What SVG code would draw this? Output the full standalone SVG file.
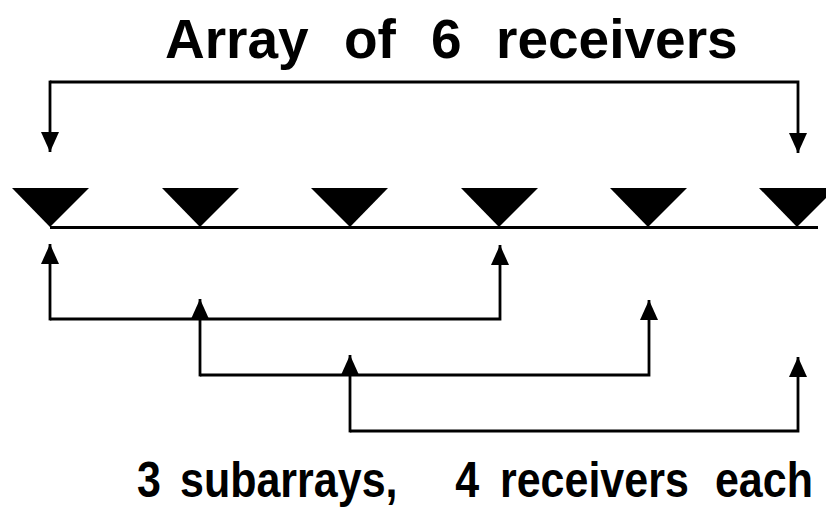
<svg xmlns="http://www.w3.org/2000/svg" width="826" height="507" viewBox="0 0 826 507">
  <style>
    .title { font-family: "Liberation Sans", Arial, sans-serif; font-weight: bold; fill: #000; }
    .wire { fill: none; stroke: #000; stroke-width: 2.8; stroke-linejoin: miter; stroke-linecap: butt; }
    .rx { fill: #000; }
  </style>
  <defs>
    <marker id="head" viewBox="0 0 20 18" refX="20" refY="9" markerWidth="20" markerHeight="18" markerUnits="userSpaceOnUse" orient="auto">
      <path d="M0,0 L20,9 L0,18 Z" fill="#000"/>
    </marker>
  </defs>

  <text class="title" y="58" font-size="55"><tspan x="165">Array</tspan> <tspan x="344">of</tspan> <tspan x="431">6</tspan> <tspan x="496">receivers</tspan></text>

  <!-- receiver line -->
  <g id="baseline">
    <line class="wire" x1="50" y1="227.5" x2="818" y2="227.5" stroke-width="3"/>
  </g>

  <!-- receivers: inverted triangles on the line -->
  <g id="rx1"><polygon class="rx" points="12,188 89,188 50,227"/></g>
  <g id="rx2"><polygon class="rx" points="162,188 239,188 200,227"/></g>
  <g id="rx3"><polygon class="rx" points="311,188 388,188 350,227"/></g>
  <g id="rx4"><polygon class="rx" points="461,188 538,188 499,227"/></g>
  <g id="rx5"><polygon class="rx" points="610,188 687,188 648,227"/></g>
  <g id="rx6"><polygon class="rx" points="759,188 836,188 797,227"/></g>

  <g id="connectors">
    <!-- full array span -->
    <polyline class="wire" points="50,82 798,82 798,153" marker-end="url(#head)"/>
    <line class="wire" x1="50" y1="80.6" x2="50" y2="152" marker-end="url(#head)"/>
    <!-- subarray 1 -->
    <polyline class="wire" points="50,319 500,319 500,245" marker-end="url(#head)"/>
    <line class="wire" x1="50" y1="320.4" x2="50" y2="244" marker-end="url(#head)"/>
    <!-- subarray 2 -->
    <polyline class="wire" points="200,375 649,375 649,300" marker-end="url(#head)"/>
    <line class="wire" x1="200" y1="376.4" x2="200" y2="299" marker-end="url(#head)"/>
    <!-- subarray 3 -->
    <polyline class="wire" points="350,431 798,431 798,357" marker-end="url(#head)"/>
    <line class="wire" x1="350" y1="432.4" x2="350" y2="355" marker-end="url(#head)"/>
  </g>

  <text class="title" font-size="50" transform="translate(137,497) scale(0.86,1)"><tspan x="0">3</tspan> <tspan x="50">subarrays,</tspan> <tspan x="370">4</tspan> <tspan x="422">receivers</tspan> <tspan x="672">each</tspan></text>
</svg>
